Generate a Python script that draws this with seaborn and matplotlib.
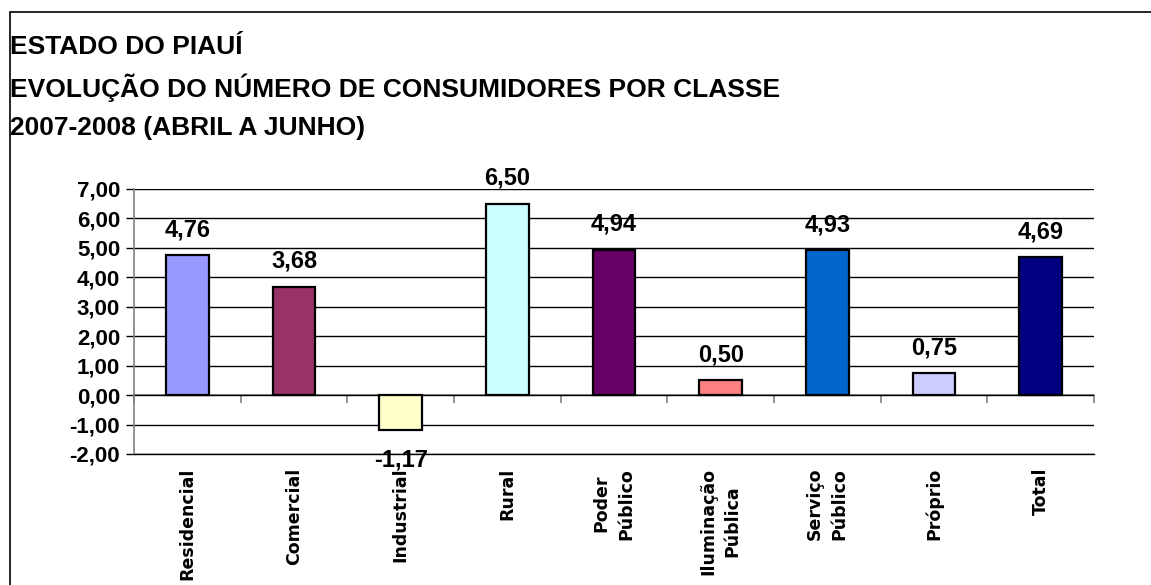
import matplotlib
matplotlib.use("Agg")
import matplotlib.pyplot as plt
import matplotlib.patches as patches
import seaborn as sns
import pandas as pd

# chart data
categories = ["Residencial", "Comercial", "Industrial", "Rural", "Poder\nPúblico",
              "Iluminação\nPública", "Serviço\nPúblico", "Próprio", "Total"]
values = [4.76, 3.68, -1.17, 6.50, 4.94, 0.50, 4.93, 0.75, 4.69]
colors = ["#9999FF", "#993366", "#FFFFCC", "#CCFFFF", "#660066",
          "#FF8080", "#0066CC", "#CCCCFF", "#000080"]
title_lines = ["ESTADO DO PIAUÍ",
               "EVOLUÇÃO DO NÚMERO DE CONSUMIDORES POR CLASSE",
               "2007-2008 (ABRIL A JUNHO)"]

df = pd.DataFrame({"classe": categories, "valor": values})

sns.set_style("white")
plt.rcParams['font.family'] = ['Liberation Sans', 'DejaVu Sans']
plt.rcParams['text.color'] = 'black'

fig = plt.figure(figsize=(11.51, 5.85), dpi=100)
ax = fig.add_axes([0.1164, 0.224, 0.8341, 0.453])

sns.barplot(data=df, x="classe", y="valor", hue="classe", palette=colors,
            legend=False, width=0.4, edgecolor="black", linewidth=1.6,
            saturation=1, ax=ax, zorder=3)

ax.set_ylim(-2, 7)
ax.set_xlim(-0.5, len(categories) - 0.5)
ax.set_yticks(range(-2, 8))
ax.set_yticklabels([f"{v:.2f}".replace(".", ",") for v in range(-2, 8)],
                   fontsize=16, fontweight="bold", color="black")
ax.yaxis.grid(True, color="black", linewidth=1)
ax.set_axisbelow(True)
ax.tick_params(axis="y", length=6, color="black", width=1, pad=4, left=True)
for s in ["top", "right"]:
    ax.spines[s].set_visible(False)
ax.spines["bottom"].set_color("black")
ax.spines["bottom"].set_linewidth(1)
ax.spines["left"].set_color("#808080")
ax.spines["left"].set_linewidth(1.2)

# category labels at the bottom
ax.set_xticks(range(len(categories)))
ax.set_xticklabels(categories, rotation=90, fontsize=12.5, fontweight="bold",
                   va="top", ha="center", linespacing=1.45,
                   family=["DejaVu Sans"], color="black")
ax.tick_params(axis="x", length=0, pad=10)
ax.set_xlabel("")
ax.set_ylabel("")

# zero line with category separators
zero = ax.secondary_xaxis(2 / 9)
zero.set_xticks([i - 0.5 for i in range(len(categories) + 1)])
zero.set_xticklabels([])
zero.tick_params(length=6, color="#808080", width=1.2, direction="out")
zero.spines["bottom"].set_color("#808080")
zero.spines["bottom"].set_linewidth(1.2)

# value labels
for i, v in enumerate(values):
    txt = f"{v:.2f}".replace(".", ",")
    if v >= 0:
        ax.annotate(txt, (i, v), xytext=(0, 10), textcoords="offset points",
                    ha="center", va="bottom", fontsize=17, fontweight="bold")
    else:
        ax.annotate(txt, (i, v), xytext=(0, -14), textcoords="offset points",
                    ha="center", va="top", fontsize=17, fontweight="bold")

# title
for k, line in enumerate(title_lines):
    fig.text(10 / 1151, 1 - (47 + 40.5 * k) / 585, line, fontsize=19,
             fontweight="bold", ha="left", va="center")

# outer frame
fig.patches.append(patches.Rectangle((10 / 1151, -0.1), 1.2, 1.1 - 12 / 585,
                                     transform=fig.transFigure, fill=False,
                                     edgecolor="black", linewidth=1.2))

fig.savefig("out.png", dpi=100)
